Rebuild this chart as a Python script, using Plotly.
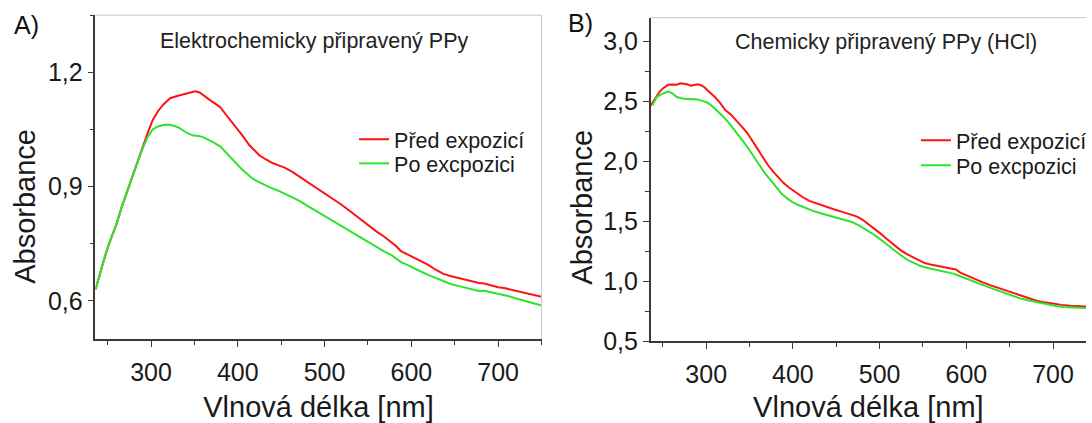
import plotly.graph_objects as go

# ---------------- data ----------------
# Panel A: Elektrochemicky připravený PPy
wl_a_red = [236, 242, 248, 254, 260, 266, 272, 278, 284, 290, 296, 302, 308, 314, 322, 330, 338, 345, 351, 356,
            362, 368, 374, 380, 386, 392, 398, 405, 413, 420, 425, 432, 440, 447, 454, 462, 470, 478, 486, 494, 500,
            510, 520, 528, 536, 544, 552, 560, 568, 576, 582, 588, 596, 604, 612, 620, 628, 637, 646, 655, 664, 672,
            678, 684, 692, 700, 707, 716, 726, 736, 744, 750]
abs_a_red = [0.630, 0.680, 0.725, 0.765, 0.800, 0.845, 0.885, 0.925, 0.965, 1.005, 1.040, 1.075, 1.098, 1.115,
             1.132, 1.138, 1.142, 1.146, 1.150, 1.147, 1.136, 1.127, 1.118, 1.108, 1.090, 1.073, 1.055, 1.035,
             1.010, 0.992, 0.982, 0.972, 0.962, 0.956, 0.950, 0.940, 0.928, 0.917, 0.905, 0.892, 0.883, 0.868,
             0.852, 0.838, 0.824, 0.810, 0.795, 0.782, 0.770, 0.755, 0.745, 0.731, 0.722, 0.712, 0.703, 0.694,
             0.682, 0.671, 0.665, 0.660, 0.654, 0.650, 0.647, 0.646, 0.640, 0.636, 0.634, 0.629, 0.624, 0.618,
             0.614, 0.611]

wl_a_green = [236, 242, 248, 254, 260, 266, 272, 278, 284, 290, 296, 302, 308, 314, 320, 326, 332, 338, 343, 349,
              355, 360, 366, 372, 380, 386, 392, 398, 404, 410, 416, 421, 428, 437, 446, 454, 462, 470, 478, 486,
              494, 500, 510, 520, 528, 536, 544, 552, 560, 568, 576, 582, 588, 596, 604, 612, 620, 628, 637, 646,
              655, 664, 672, 678, 684, 692, 700, 710, 720, 730, 740, 750]
abs_a_green = [0.630, 0.680, 0.725, 0.765, 0.800, 0.845, 0.885, 0.925, 0.962, 0.998, 1.030, 1.050, 1.058, 1.062,
               1.063, 1.060, 1.055, 1.046, 1.039, 1.034, 1.033, 1.030, 1.024, 1.016, 1.005, 0.990, 0.975, 0.960,
               0.947, 0.935, 0.923, 0.916, 0.908, 0.898, 0.890, 0.882, 0.874, 0.864, 0.853, 0.842, 0.831, 0.824,
               0.810, 0.795, 0.785, 0.774, 0.762, 0.752, 0.742, 0.731, 0.722, 0.712, 0.702, 0.694, 0.684, 0.676,
               0.668, 0.660, 0.651, 0.644, 0.639, 0.634, 0.631, 0.626, 0.627, 0.623, 0.620, 0.614, 0.607, 0.600,
               0.594, 0.588]

# Panel B: Chemicky připravený PPy (HCl)
wl_b_red = [235, 241, 246, 250, 256, 262, 266, 270, 274, 278, 282, 286, 290, 294, 298, 302, 306, 310, 316, 322,
            328, 334, 340, 347, 353, 359, 365, 371, 377, 383, 389, 395, 403, 411, 419, 427, 437, 447, 457, 468,
            474, 480, 486, 492, 500, 508, 516, 524, 532, 540, 546, 552, 560, 569, 576, 583, 588, 593, 601, 609,
            619, 629, 640, 650, 660, 670, 680, 690, 700, 710, 720, 730, 738]
abs_b_red = [2.457, 2.524, 2.580, 2.610, 2.640, 2.642, 2.640, 2.653, 2.650, 2.645, 2.632, 2.640, 2.645, 2.637,
             2.620, 2.590, 2.565, 2.538, 2.490, 2.430, 2.395, 2.350, 2.300, 2.242, 2.180, 2.108, 2.040, 1.973,
             1.918, 1.866, 1.822, 1.785, 1.745, 1.704, 1.672, 1.651, 1.626, 1.602, 1.580, 1.556, 1.540, 1.516,
             1.485, 1.449, 1.405, 1.355, 1.308, 1.261, 1.225, 1.194, 1.172, 1.153, 1.138, 1.126, 1.120, 1.113,
             1.100, 1.073, 1.048, 1.019, 0.992, 0.965, 0.938, 0.911, 0.884, 0.858, 0.840, 0.825, 0.813, 0.804,
             0.797, 0.792, 0.790]

wl_b_green = [238, 243, 249, 253, 256, 260, 266, 274, 282, 290, 294, 302, 308, 314, 320, 326, 332, 338, 344, 350,
              356, 362, 368, 375, 381, 387, 393, 399, 407, 415, 423, 431, 441, 451, 460, 468, 476, 484, 492, 500,
              508, 516, 524, 532, 540, 548, 558, 569, 577, 585, 593, 601, 611, 621, 631, 641, 651, 662, 672, 682,
              692, 702, 712, 722, 730, 738]
abs_b_green = [2.470, 2.538, 2.565, 2.578, 2.583, 2.573, 2.538, 2.524, 2.524, 2.518, 2.510, 2.489, 2.455, 2.417,
               2.372, 2.323, 2.270, 2.215, 2.155, 2.094, 2.028, 1.960, 1.898, 1.839, 1.783, 1.731, 1.695, 1.664,
               1.635, 1.610, 1.588, 1.570, 1.550, 1.530, 1.512, 1.495, 1.468, 1.435, 1.397, 1.355, 1.308, 1.261,
               1.220, 1.180, 1.152, 1.126, 1.107, 1.091, 1.077, 1.065, 1.043, 1.019, 0.992, 0.965, 0.938, 0.911,
               0.885, 0.858, 0.840, 0.825, 0.810, 0.796, 0.787, 0.781, 0.779, 0.777]

series_names = ["Před expozicí", "Po excpozici"]
panel_titles = ["Elektrochemicky připravený PPy", "Chemicky připravený PPy (HCl)"]
panel_labels = ["A)", "B)"]
x_title = "Vlnová délka [nm]"
y_title = "Absorbance"

RED = "#ff1212"
GREEN = "#2ee32e"
FONT = "Arial, Liberation Sans, sans-serif"
AXC = "#3a3a3a"
TXT = "#1a1a1a"

W, H = 1092, 423

fig = go.Figure()
fig.add_trace(go.Scatter(x=wl_a_red, y=abs_a_red, mode="lines", name=series_names[0],
                         line=dict(color=RED, width=2), xaxis="x", yaxis="y", legend="legend"))
fig.add_trace(go.Scatter(x=wl_a_green, y=abs_a_green, mode="lines", name=series_names[1],
                         line=dict(color=GREEN, width=2), xaxis="x", yaxis="y", legend="legend2"))
fig.add_trace(go.Scatter(x=wl_b_red, y=abs_b_red, mode="lines", name=series_names[0],
                         line=dict(color=RED, width=2), xaxis="x2", yaxis="y2", legend="legend3"))
fig.add_trace(go.Scatter(x=wl_b_green, y=abs_b_green, mode="lines", name=series_names[1],
                         line=dict(color=GREEN, width=2), xaxis="x2", yaxis="y2", legend="legend4"))


def xax(domain, rng, anchor):
    return dict(domain=domain, range=rng, anchor=anchor, showgrid=False, zeroline=False,
                showline=True, linecolor=AXC, linewidth=1.5, ticks="outside", ticklen=6,
                tickcolor=AXC, tickwidth=1.2, dtick=100, tick0=0, ticklabelstandoff=4,
                minor=dict(ticks="outside", ticklen=4, dtick=50, tick0=0, tickcolor=AXC, showgrid=False),
                tickfont=dict(family=FONT, size=25, color=TXT),
                title=dict(text=x_title, font=dict(family=FONT, size=29, color=TXT), standoff=14))


def yax(domain, rng, anchor, dtick, minor_dtick):
    return dict(domain=domain, range=rng, anchor=anchor, showgrid=False, zeroline=False,
                showline=True, linecolor=AXC, linewidth=1.5, ticks="outside", ticklen=6,
                tickcolor=AXC, tickwidth=1.2, dtick=dtick, tick0=0, tickformat=".1f",
                minor=dict(ticks="outside", ticklen=4, dtick=minor_dtick, tick0=0, tickcolor=AXC, showgrid=False),
                tickfont=dict(family=FONT, size=25, color=TXT))


def leg(xpx, ypx):
    return dict(x=xpx / W, y=1 - ypx / H, xanchor="left", yanchor="middle", bgcolor="rgba(0,0,0,0)",
                font=dict(family=FONT, size=21.5, color=TXT), itemwidth=30, borderwidth=0)


fig.update_layout(
    width=W, height=H, margin=dict(l=0, r=0, t=0, b=0),
    paper_bgcolor="white", plot_bgcolor="white", separators=", ",
    xaxis=xax([96 / W, 544.5 / W], [236, 750], "y"),
    yaxis=yax([1 - 350.7 / H, 1 - 15.7 / H], [0.5, 1.35], "x", 0.3, 0.15),
    xaxis2=xax([654.3 / W, 1.0], [236, 738], "y2"),
    yaxis2=yax([1 - 353 / H, 1 - 18.3 / H], [0.5, 3.2], "x2", 0.5, 0.25),
    legend=leg(356, 144),
    legend2=leg(356, 169),
    legend3=leg(921, 145),
    legend4=leg(921, 171),
    showlegend=True,
)

# light frame on top/right
fig.add_shape(type="line", xref="x domain", yref="y domain", x0=0, x1=1, y0=1, y1=1,
              line=dict(color="#cfcfcf", width=1.2))
fig.add_shape(type="line", xref="x domain", yref="y domain", x0=1, x1=1, y0=0, y1=1,
              line=dict(color="#cfcfcf", width=1.2))
fig.add_shape(type="line", xref="x2 domain", yref="y2 domain", x0=0, x1=1, y0=1, y1=1,
              line=dict(color="#cfcfcf", width=1.2))


def note(text, xpx, ypx, size, color=TXT, angle=0):
    fig.add_annotation(text=text, x=xpx / W, y=1 - ypx / H, xref="paper", yref="paper", textangle=angle,
                       showarrow=False, font=dict(family=FONT, size=size, color=color),
                       xanchor="center", yanchor="middle")


# panel titles and labels
note(panel_titles[0], 316, 42, 21.5, "#222")
note(panel_titles[1], 891, 43, 21.5, "#222")
note(panel_labels[0], 27, 26, 25, "#111")
note(panel_labels[1], 584, 24, 25, "#111")
# y axis titles
note(y_title, 25, 213, 29, angle=-90)
note(y_title, 585, 214, 29, angle=-90)

fig.write_html("out.html")
